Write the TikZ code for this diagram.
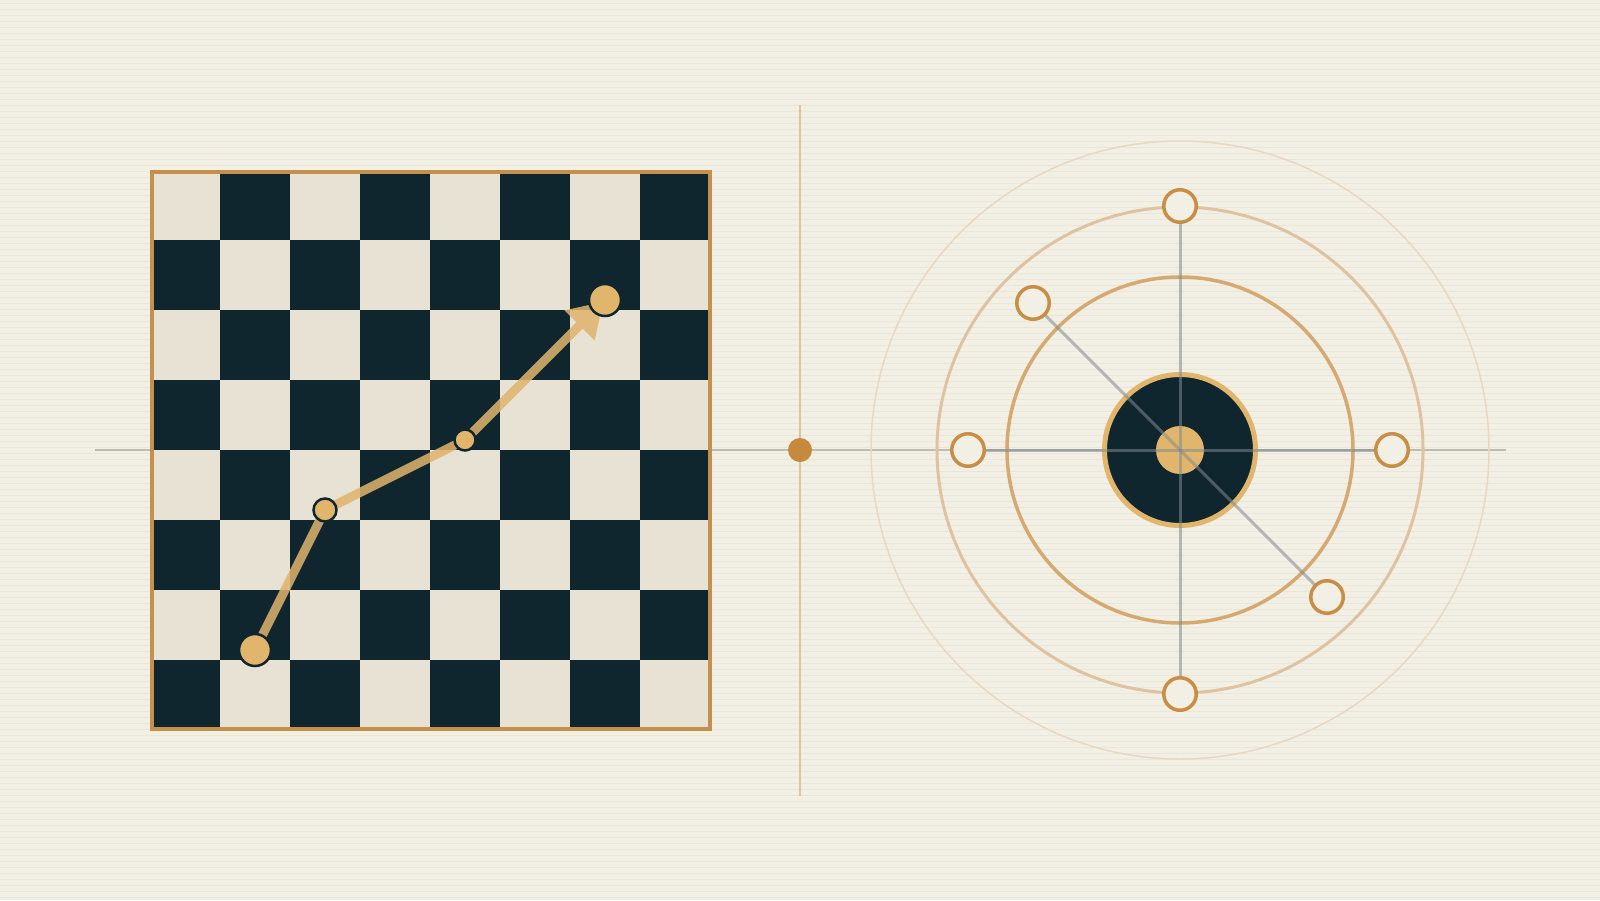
\documentclass[tikz,border=0pt]{standalone}
\usetikzlibrary{arrows.meta}
\definecolor{bg}{HTML}{F2EFE4}
\definecolor{stripe}{HTML}{EAE6D9}
\definecolor{lightsq}{HTML}{E8E2D4}
\definecolor{darksq}{HTML}{10262F}
\definecolor{boardedge}{HTML}{C4904C}
\definecolor{gold}{HTML}{E2B56C}
\definecolor{goldline}{HTML}{E0B46C}
\definecolor{dotc}{HTML}{C68A3E}
\definecolor{vline}{HTML}{DFC39E}
\definecolor{axisc}{HTML}{BDBBB3}
\definecolor{ringA}{HTML}{E8D8C2}
\definecolor{ringB}{HTML}{DFC3A0}
\definecolor{ringC}{HTML}{D5A971}
\definecolor{openc}{HTML}{C98E45}
\definecolor{grayl}{HTML}{7F8A8C}
\begin{document}
\begin{tikzpicture}[x=0.5pt,y=-0.5pt,
  piece/.style={circle,inner sep=0pt,fill=gold,draw=darksq,line width=1.25pt},
  opennode/.style={circle,inner sep=0pt,minimum size=16.25pt,fill=bg,draw=openc,line width=1.75pt},
  grayline/.style={draw=grayl,opacity=0.55,line width=1.5pt},
  pathline/.style={draw=goldline,line width=4.5pt,line join=round}]
\fill[bg] (0,0) rectangle (1600,900);
\useasboundingbox (0,0) rectangle (1600,900);
\foreach \y in {3,9,...,897} \draw[stripe,line width=0.5pt] (0,\y) -- (1600,\y);
% axes
\coordinate (axL) at (95,450);
\coordinate (axR) at (1506,450);
\coordinate (vT) at (800,105);
\coordinate (vB) at (800,796);
\draw[axisc,line width=1pt] (axL) -- (axR);
\draw[vline,line width=1pt] (vT) -- (vB);
\node[circle,inner sep=0pt,minimum size=12pt,fill=dotc] (dot) at (800,450) {};
% board
\fill[lightsq] (150,170) rectangle (710,730);
\foreach \i in {0,...,7}{\foreach \j in {0,...,7}{
  \pgfmathtruncatemacro\p{mod(\i+\j,2)}
  \ifnum\p=1 \fill[darksq] ({150+70*\i},{170+70*\j}) rectangle +(70,70);\fi
}}
\draw[boardedge,line width=2pt] (151.5,171.5) rectangle (709.5,729);
% path
\coordinate (A) at (255,650);
\coordinate (B) at (325,510);
\coordinate (C) at (465,440);
\coordinate (D) at (605,300);
\begin{scope}[transparency group,opacity=0.85]
\draw[pathline,-{Triangle[length=17pt,width=20pt]},shorten >=1pt] (A) -- (B) -- (C) -- (D);
\end{scope}
\node[piece,minimum size=16pt] (pa) at (A) {};
\node[piece,minimum size=11.5pt] (pb) at (B) {};
\node[piece,minimum size=10.5pt] (pc) at (C) {};
\node[piece,minimum size=16pt] (pd) at (D) {};
% target
\coordinate (O) at (1180,450);
\draw[ringA,line width=0.75pt] (O) circle[radius=309];
\draw[ringB,line width=1.5pt] (O) circle[radius=243];
\draw[ringC,line width=1.75pt] (O) circle[radius=173];
\node[circle,inner sep=0pt,minimum size=75.5pt,fill=darksq,draw=gold,line width=2.5pt] (disk) at (O) {};
\node[circle,inner sep=0pt,minimum size=24pt,fill=gold] (core) at (O) {};
\coordinate (T) at (1180,206);
\coordinate (Bt) at (1180,694);
\coordinate (L) at (968,450);
\coordinate (R) at (1392,450);
\coordinate (UL) at (1033,303);
\coordinate (LR) at (1327,597);
\draw[grayline] (T) -- (Bt);
\draw[grayline] (L) -- (R);
\draw[grayline] (UL) -- (LR);
\node[opennode] (nt) at (T) {};
\node[opennode] (nb) at (Bt) {};
\node[opennode] (nl) at (L) {};
\node[opennode] (nr) at (R) {};
\node[opennode] (nul) at (UL) {};
\node[opennode] (nlr) at (LR) {};
\end{tikzpicture}
\end{document}
